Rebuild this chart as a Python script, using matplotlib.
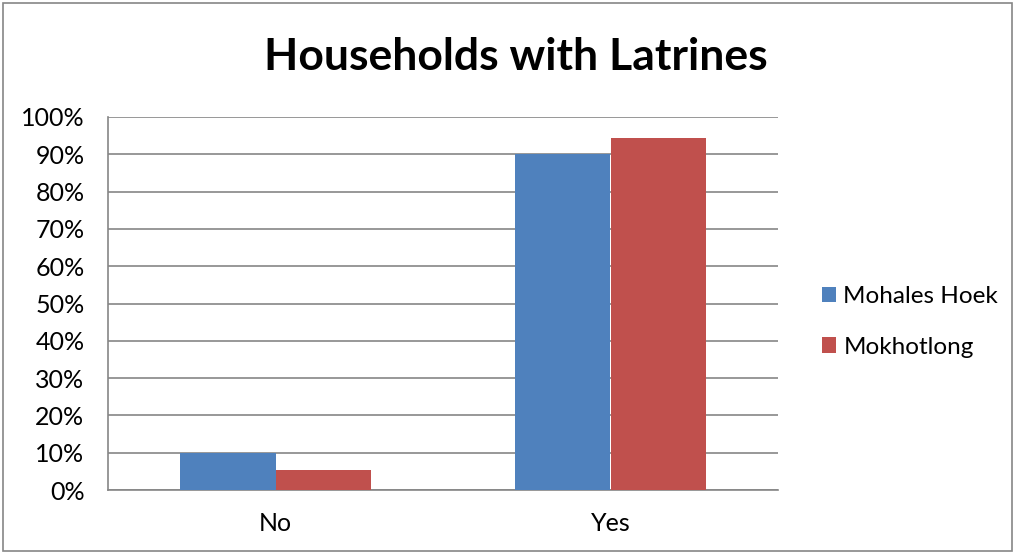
import matplotlib
matplotlib.use("Agg")
import matplotlib.pyplot as plt
import numpy as np
from matplotlib.patches import Rectangle

categories = ["No", "Yes"]
series_names = ["Mohales Hoek", "Mokhotlong"]
mohales_hoek = [10.0, 90.0]
mokhotlong = [5.4, 94.4]
yticks = list(range(0, 101, 10))
ytick_labels = [f"{v}%" for v in yticks]

colors = ["#4F81BD", "#C0504D"]
W, H = 1015, 553
fig = plt.figure(figsize=(W / 100, H / 100), dpi=100)
plt.rcParams['font.family'] = ['Lato', 'DejaVu Sans']

ax = fig.add_axes([108 / W, 1 - 490 / H, (778 - 108) / W, (490 - 117) / H])
x = np.arange(len(categories))
bw = 0.285
ax.bar(x - bw / 2, mohales_hoek, bw, color=colors[0], label=series_names[0], zorder=3)
ax.bar(x + bw / 2, mokhotlong, bw, color=colors[1], label=series_names[1], zorder=3)
ax.set_xlim(-0.5, 1.5)
ax.set_ylim(0, 100)
ax.set_yticks(yticks)
ax.set_yticklabels(ytick_labels, fontsize=18)
ax.set_xticks(x)
ax.set_xticklabels(categories, fontsize=18)
ax.tick_params(axis='x', length=0, pad=16)
ax.tick_params(axis='y', length=0, pad=17)
ax.grid(axis='y', color='#868686', linewidth=1.2, zorder=0)
for s in ['top', 'right']:
    ax.spines[s].set_visible(False)
for s in ['left', 'bottom']:
    ax.spines[s].set_color('#868686')
    ax.spines[s].set_linewidth(1.2)

fig.text(516 / W, 1 - 57 / H, "Households with Latrines", ha='center', va='center',
         fontsize=32, fontweight='bold')

leg = fig.legend(loc='center left', bbox_to_anchor=(822 / W, 1 - 322 / H), frameon=False,
                 fontsize=17.5, handlelength=0.58, handleheight=0.58, handletextpad=0.3,
                 labelspacing=1.2, borderpad=0, borderaxespad=0)

fig.patches.append(Rectangle((3 / W, 2 / H), (W - 6) / W, (H - 5) / H, transform=fig.transFigure,
                             fill=False, edgecolor='#868686', linewidth=1.2))
fig.savefig("out.png", dpi=100)
